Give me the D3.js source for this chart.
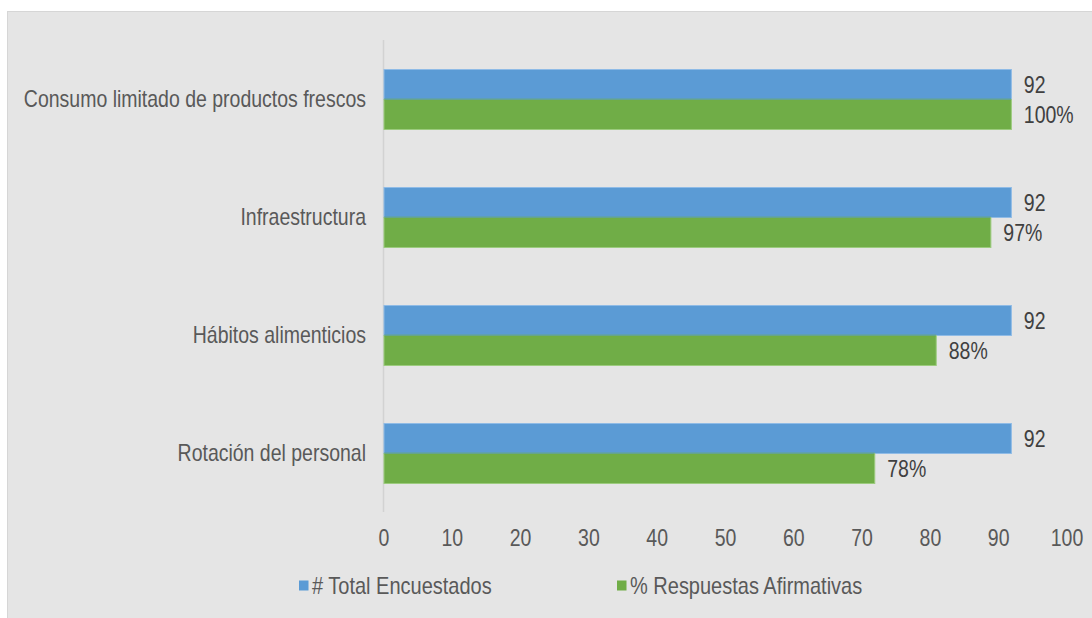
<!DOCTYPE html>
<html><head><meta charset="utf-8">
<script src="https://cdn.jsdelivr.net/npm/d3@7"></script>
<style>html,body{margin:0;padding:0;background:#fff;}svg{display:block;}</style>
</head><body>
<svg id="c" width="1092" height="618"></svg>
<script>
const categories = ["Consumo limitado de productos frescos","Infraestructura","Hábitos alimenticios","Rotación del personal"];
const totalEncuestados = [92, 92, 92, 92];
const respuestasAfirmativas = [92, 89, 81, 72];
const respuestasLabels = ["100%","97%","88%","78%"];
const xTicks = [0,10,20,30,40,50,60,70,80,90,100];
const seriesNames = ["# Total Encuestados","% Respuestas Afirmativas"];
const colors = ["#5b9bd5","#70ad47"];
const strokeColors = ["#8fbbe6","#9ccb7e"];

const svg = d3.select("#c");
const FONT = "'Liberation Sans', Arial, sans-serif";
const FS = 19.5, SY = 1.2;

svg.append("rect").attr("x",7).attr("y",11).attr("width",1085).attr("height",607).attr("fill","#e5e5e5");
svg.append("line").attr("x1",7).attr("x2",1092).attr("y1",11.5).attr("y2",11.5).attr("stroke","#d6d6d6").attr("stroke-width",1);
svg.append("line").attr("x1",7.5).attr("x2",7.5).attr("y1",11).attr("y2",618).attr("stroke","#d6d6d6").attr("stroke-width",1);

const x = d3.scaleLinear().domain([0,100]).range([383.5,1066.5]);
const y = d3.scaleBand().domain(categories).range([40.5,512.5]).paddingInner(0.483).paddingOuter(0.2415);
const bh = y.bandwidth()/2;

function txt(g, xx, yy, s, anchor, color, fs){
  return g.append("text")
    .attr("transform", `translate(${xx},${yy}) scale(1,${SY})`)
    .attr("text-anchor", anchor).attr("dominant-baseline","central")
    .attr("font-family", FONT).attr("font-size", fs || FS).attr("fill", color).text(s);
}

// x axis tick labels via d3 axis
const xAxis = svg.append("g").attr("transform","translate(0,538)")
  .call(d3.axisBottom(x).tickValues(xTicks).tickSize(0).tickPadding(0));
xAxis.select(".domain").remove();
xAxis.selectAll("text")
  .attr("y",0).attr("dy",null)
  .attr("dominant-baseline","central")
  .attr("transform",`scale(1,${SY})`)
  .attr("font-family",FONT).attr("font-size",FS).attr("fill","#595959");

// y axis labels
const yAxis = svg.append("g").attr("transform","translate(366,0)")
  .call(d3.axisLeft(y).tickSize(0).tickPadding(0));
yAxis.select(".domain").remove();
yAxis.selectAll("text")
  .attr("x",0).attr("dy",null).attr("dominant-baseline","central")
  .attr("transform",`scale(1,${SY})`)
  .attr("font-family",FONT).attr("font-size",FS).attr("fill","#595959");
yAxis.selectAll(".tick").each(function(d){
  const yy = y(d) + y.bandwidth()/2;
  d3.select(this).attr("transform",`translate(0,${yy})`);
});

// vertical axis line
svg.append("line").attr("x1",x(0)).attr("x2",x(0)).attr("y1",40).attr("y2",512)
  .attr("stroke","#d2d2d2").attr("stroke-width",1.5);

const gBars = svg.append("g");
categories.forEach((c,i)=>{
  const y0 = y(c);
  gBars.append("rect").attr("x",x(0)+0.5).attr("y",y0+0.5)
    .attr("width",x(totalEncuestados[i])-x(0)-1).attr("height",bh-0.5)
    .attr("fill",colors[0]).attr("stroke",strokeColors[0]).attr("stroke-width",1);
  gBars.append("rect").attr("x",x(0)+0.5).attr("y",y0+bh)
    .attr("width",x(respuestasAfirmativas[i])-x(0)-1).attr("height",bh-0.5)
    .attr("fill",colors[1]).attr("stroke",strokeColors[1]).attr("stroke-width",1);
  const w = Math.min(x(totalEncuestados[i]),x(respuestasAfirmativas[i]))-x(0)-2;
  gBars.append("rect").attr("x",x(0)+1).attr("y",y0+bh-1).attr("width",w).attr("height",2).attr("fill",colors[1]);
  gBars.append("rect").attr("x",x(0)+1).attr("y",y0+bh-1).attr("width",w).attr("height",1).attr("fill",colors[0]);
  txt(gBars, x(totalEncuestados[i])+12, y0+bh/2+1, String(totalEncuestados[i]), "start", "#404040");
  txt(gBars, x(respuestasAfirmativas[i])+12, y0+bh*1.5+1, respuestasLabels[i], "start", "#404040");
});

// legend
const lg = svg.append("g");
const legX = [299, 617];
seriesNames.forEach((n,i)=>{
  lg.append("rect").attr("x",legX[i]).attr("y",580.5).attr("width",9.5).attr("height",10).attr("fill",colors[i]);
  txt(lg, legX[i]+13, 585.5, n, "start", "#595959", 20);
});
</script>
</body></html>
